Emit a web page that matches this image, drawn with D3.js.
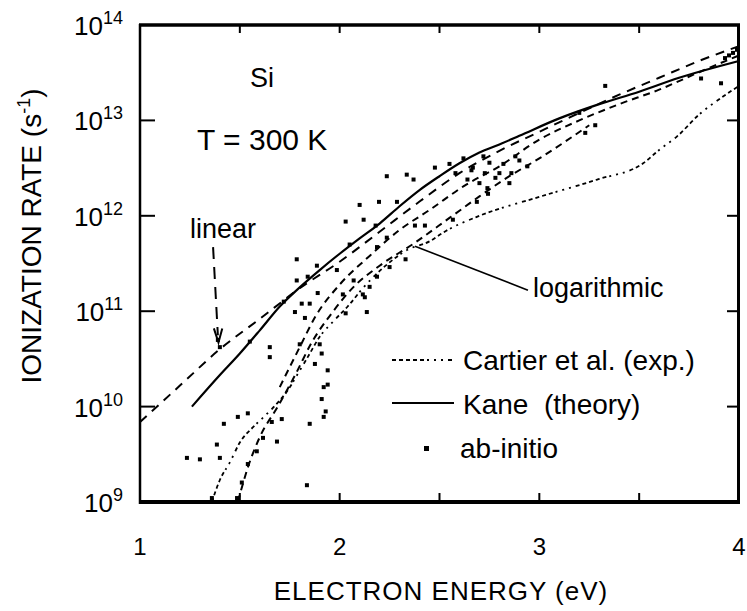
<!DOCTYPE html>
<html>
<head>
<meta charset="utf-8">
<script src="https://cdn.jsdelivr.net/npm/d3@7"></script>
<style>
  html, body { margin: 0; padding: 0; background: #fff; }
  svg { display: block; font-family: "Liberation Sans", Arial, Helvetica, sans-serif; }
</style>
</head>
<body>
<svg id="chart" width="747" height="611"></svg>
<script>
// values: electron energy (eV) vs ionization rate (1/s)
const kaneEnergy = [1.26, 1.4, 1.5, 1.6, 1.7, 1.8, 1.9, 2.0, 2.1, 2.2, 2.3, 2.4, 2.5, 2.6, 2.7, 2.8, 2.9, 3.1, 3.3, 3.5, 3.7, 3.9, 4.0];
const kaneRate = [1.0e10, 2.14e10, 3.6e10, 6.3e10, 1.12e11, 1.78e11, 2.7e11, 4.0e11, 5.8e11, 8.3e11, 1.26e12, 1.86e12, 2.6e12, 3.55e12, 4.6e12, 5.6e12, 6.9e12, 1.05e13, 1.48e13, 2.0e13, 2.8e13, 3.7e13, 4.2e13];

const linearEnergy = [1.0, 1.2, 1.4, 1.6, 1.8, 2.0, 2.2, 2.4, 2.6, 2.8, 3.0, 3.2, 3.4, 3.6, 3.8, 4.0];
const linearRate = [6.9e9, 1.66e10, 4.0e10, 8.3e10, 1.74e11, 3.3e11, 6.8e11, 1.41e12, 2.8e12, 4.8e12, 7.6e12, 1.2e13, 1.86e13, 2.8e13, 4.2e13, 6.0e13];

const logUpperEnergy = [1.7, 1.8, 1.88, 2.0, 2.15, 2.3, 2.45, 2.63, 2.8, 3.0, 3.2, 3.4, 3.6, 3.8, 4.0];
const logUpperRate = [1.6e10, 4.2e10, 8.9e10, 1.9e11, 3.8e11, 7.1e11, 1.15e12, 2.1e12, 3.3e12, 6.3e12, 1.0e13, 1.48e13, 2.1e13, 3.2e13, 4.8e13];

const logLowerEnergy = [1.49, 1.54, 1.6, 1.69, 1.78, 1.86, 1.96, 2.07, 2.2, 2.37, 2.55, 2.7, 2.85, 3.0, 3.25];
const logLowerRate = [1.0e9, 2.3e9, 4.8e9, 1.0e10, 2.2e10, 4.7e10, 9.5e10, 1.8e11, 3.0e11, 5.1e11, 9.5e11, 1.6e12, 2.6e12, 4.0e12, 8.9e12];

const cartierEnergy = [1.36, 1.4, 1.45, 1.5, 1.57, 1.62, 1.69, 1.74, 1.79, 1.84, 1.9, 1.97, 2.04, 2.12, 2.23, 2.34, 2.45, 2.53, 2.7, 3.0, 3.29, 3.52, 3.6, 3.69, 3.8, 3.92, 4.0];
const cartierRate = [1.0e9, 1.7e9, 2.6e9, 4.2e9, 6.2e9, 7.8e9, 1.1e10, 1.48e10, 2.2e10, 3.3e10, 5.4e10, 7.9e10, 1.12e11, 1.78e11, 3.0e11, 4.4e11, 5.4e11, 6.9e11, 1.0e12, 1.58e12, 2.4e12, 3.55e12, 4.9e12, 6.8e12, 1.15e13, 1.78e13, 2.3e13];

const abEnergy = [1.42, 1.49, 1.54, 1.235, 1.3, 1.385, 1.4, 1.616, 1.686, 1.585, 1.71, 1.66, 1.85, 1.836, 1.92, 1.91, 1.92, 1.486, 1.776, 1.826,
  1.65, 1.65, 1.8, 1.9, 1.91, 1.876, 1.94, 1.94, 1.93, 1.54, 1.51, 2.136, 2.116, 2.03, 1.81, 1.85, 2.236, 2.336, 2.37, 2.197,
  2.1, 2.287, 2.03, 2.12, 2.236, 2.377, 2.427, 2.567, 2.687, 2.187, 2.187, 1.886, 1.89, 1.986, 2.016, 2.15, 2.126, 2.07, 2.33, 2.25,
  2.477, 2.55, 2.667, 2.727, 2.7, 2.74, 2.8, 2.88, 2.72, 3.33, 3.23, 3.28, 3.2, 3.81, 3.91, 3.97, 3.93, 1.785, 1.785, 2.743,
  2.62, 2.66, 2.75, 2.78, 2.82, 2.86, 2.9, 2.64, 2.58, 2.85, 2.94, 1.55, 1.72, 1.84, 2.05, 2.18, 1.4, 1.39, 1.36, 3.99, 3.95];
const abRate = [6.6e9, 7.8e9, 8.5e9, 2.9e9, 2.8e9, 4.0e9, 2.9e9, 4.7e9, 4.3e9, 3.4e9, 7.4e9, 6.9e9, 6.6e9, 1.5e9, 7.8e9, 1.2e10, 1.6e10, 1.1e9, 9.8e10, 8.5e10,
  3.3e10, 4.2e10, 4.5e10, 4.5e10, 3.6e10, 2.8e10, 2.4e10, 1.7e10, 8.9e9, 2.5e9, 1.6e9, 9.8e10, 1.5e11, 9.5e10, 1.2e11, 1.2e11, 2.6e12, 2.7e12, 2.4e12, 1.4e12,
  1.3e12, 1.4e12, 8.7e11, 9.1e11, 5.9e11, 7.9e11, 7.9e11, 9.1e11, 1.4e12, 4.7e11, 2.3e11, 3.0e11, 1.55e11, 2.7e11, 1.5e11, 1.8e11, 1.4e11, 2.1e11, 3.5e11, 2.9e11,
  3.2e12, 3.5e12, 3.2e12, 2.8e12, 2.2e12, 1.95e12, 2.8e12, 4.2e12, 4.2e12, 2.3e13, 7.4e12, 8.9e12, 1.2e13, 2.75e13, 2.45e13, 5.1e13, 4.5e13, 3.5e11, 2.1e11, 1.7e12,
  4.0e12, 3.0e12, 3.6e12, 2.5e12, 3.5e12, 2.8e12, 3.8e12, 2.4e12, 2.8e12, 2.2e12, 3.3e12, 4.8e10, 1.26e11, 2.3e11, 5.0e11, 7.9e11, 4.2e10, 5.0e10, 1.1e9, 5.5e13, 4.8e13];

const xTickLabels = [1, 2, 3, 4];
const xMinorTicks = [1.5, 2, 2.5, 3, 3.5];
const yTickExponents = [9, 10, 11, 12, 13, 14];

const svg = d3.select('#chart');
const x = d3.scaleLinear().domain([1, 4]).range([140, 739]);
const y = d3.scaleLog().domain([1e9, 1e14]).range([502, 25]);

svg.append('defs').append('clipPath').attr('id', 'plot')
  .append('rect').attr('x', 140).attr('y', 25).attr('width', 599).attr('height', 477);

const plot = svg.append('g').attr('clip-path', 'url(#plot)');
const line = d3.line().x(d => x(d[0])).y(d => y(d[1])).curve(d3.curveMonotoneX);
const cartierDash = '4,3,4,3,4,3,4,3,4,3,2,5,2,5,2,5';

const curves = [
  { e: cartierEnergy, r: cartierRate, dash: cartierDash, w: 1.8 },
  { e: logLowerEnergy, r: logLowerRate, dash: '7,5', w: 2 },
  { e: logUpperEnergy, r: logUpperRate, dash: '7,5', w: 2 },
  { e: linearEnergy, r: linearRate, dash: '9,7', w: 2 },
  { e: kaneEnergy, r: kaneRate, dash: null, w: 2.2 }
];
curves.forEach(c => {
  plot.append('path')
    .attr('d', line(d3.zip(c.e, c.r)))
    .attr('fill', 'none')
    .attr('stroke', '#000')
    .attr('stroke-width', c.w)
    .attr('stroke-dasharray', c.dash);
});

// ab-initio points
plot.selectAll('rect.dot')
  .data(d3.zip(abEnergy, abRate))
  .join('rect')
  .attr('class', 'dot')
  .attr('x', d => x(d[0]) - 2)
  .attr('y', d => y(d[1]) - 2)
  .attr('width', 4)
  .attr('height', 4)
  .attr('fill', '#000');

// frame
const frame = svg.append('g').attr('stroke', '#000');
frame.append('line').attr('x1', 139).attr('x2', 740).attr('y1', 25).attr('y2', 25).attr('stroke-width', 3.5);
frame.append('line').attr('x1', 139).attr('x2', 740).attr('y1', 502).attr('y2', 502).attr('stroke-width', 4);
frame.append('line').attr('x1', 140).attr('x2', 140).attr('y1', 24).attr('y2', 504).attr('stroke-width', 2.5);
frame.append('line').attr('x1', 738.5).attr('x2', 738.5).attr('y1', 24).attr('y2', 504).attr('stroke-width', 3);

// ticks
xMinorTicks.forEach(t => {
  frame.append('line').attr('x1', x(t)).attr('x2', x(t)).attr('y1', 25).attr('y2', 33).attr('stroke-width', 2);
  frame.append('line').attr('x1', x(t)).attr('x2', x(t)).attr('y1', 502).attr('y2', 493).attr('stroke-width', 2);
});
yTickExponents.slice(1, -1).forEach(p => {
  const v = y(Math.pow(10, p));
  frame.append('line').attr('x1', 140).attr('x2', 155).attr('y1', v).attr('y2', v).attr('stroke-width', 2);
  frame.append('line').attr('x1', 738).attr('x2', 727).attr('y1', v).attr('y2', v).attr('stroke-width', 2);
});

// tick labels
yTickExponents.forEach(p => {
  const t = svg.append('text')
    .attr('x', 123)
    .attr('y', y(Math.pow(10, p)) + 10)
    .attr('text-anchor', 'end')
    .attr('font-size', 26);
  t.append('tspan').text('10');
  t.append('tspan').attr('font-size', 18).attr('dy', -11).text(p);
});
xTickLabels.forEach(t => {
  svg.append('text')
    .attr('x', x(t))
    .attr('y', 555)
    .attr('text-anchor', 'middle')
    .attr('font-size', 24)
    .text(t);
});

// axis titles
svg.append('text')
  .attr('x', 441).attr('y', 600)
  .attr('text-anchor', 'middle')
  .attr('font-size', 26)
  .attr('letter-spacing', 1)
  .text('ELECTRON ENERGY (eV)');

const yt = svg.append('text')
  .attr('transform', 'translate(41,236) rotate(-90)')
  .attr('text-anchor', 'middle')
  .attr('font-size', 28);
yt.append('tspan').text('IONIZATION RATE (s');
yt.append('tspan').attr('font-size', 18).attr('dy', -11).text('-1');
yt.append('tspan').attr('dy', 11).text(')');

// annotations
svg.append('text').attr('x', 250).attr('y', 87).attr('font-size', 27).text('Si');
svg.append('text').attr('x', 197).attr('y', 150).attr('font-size', 30).text('T = 300 K');
svg.append('text').attr('x', 190).attr('y', 238).attr('font-size', 27).text('linear');
svg.append('text').attr('x', 533).attr('y', 297).attr('font-size', 27).text('logarithmic');

// arrow for "linear"
svg.append('line')
  .attr('x1', x(1.366)).attr('y1', y(4.7e11))
  .attr('x2', x(1.39)).attr('y2', y(5.6e10))
  .attr('stroke', '#000').attr('stroke-width', 2).attr('stroke-dasharray', '12,8');
svg.append('path')
  .attr('d', `M${x(1.37)},${y(6.6e10)} L${x(1.393)},${y(4.7e10)} L${x(1.412)},${y(6.6e10)}`)
  .attr('fill', 'none').attr('stroke', '#000').attr('stroke-width', 2);

// pointer for "logarithmic"
svg.append('line')
  .attr('x1', x(2.943)).attr('y1', y(1.66e11))
  .attr('x2', x(2.377)).attr('y2', y(4.8e11))
  .attr('stroke', '#000').attr('stroke-width', 1.6);

// legend
const legend = svg.append('g');
legend.append('line').attr('x1', 392).attr('x2', 454).attr('y1', 360).attr('y2', 360)
  .attr('stroke', '#000').attr('stroke-width', 1.8).attr('stroke-dasharray', cartierDash);
legend.append('text').attr('x', 463).attr('y', 370).attr('font-size', 28).text('Cartier et al. (exp.)');
legend.append('line').attr('x1', 392).attr('x2', 454).attr('y1', 403).attr('y2', 403)
  .attr('stroke', '#000').attr('stroke-width', 2.2);
legend.append('text').attr('x', 463).attr('y', 414).attr('font-size', 28)
  .attr('xml:space', 'preserve').style('white-space', 'pre').text('Kane  (theory)');
legend.append('rect').attr('x', 424).attr('y', 446).attr('width', 5).attr('height', 5).attr('fill', '#000');
legend.append('text').attr('x', 460).attr('y', 458).attr('font-size', 28).text('ab-initio');
</script>
</body>
</html>
